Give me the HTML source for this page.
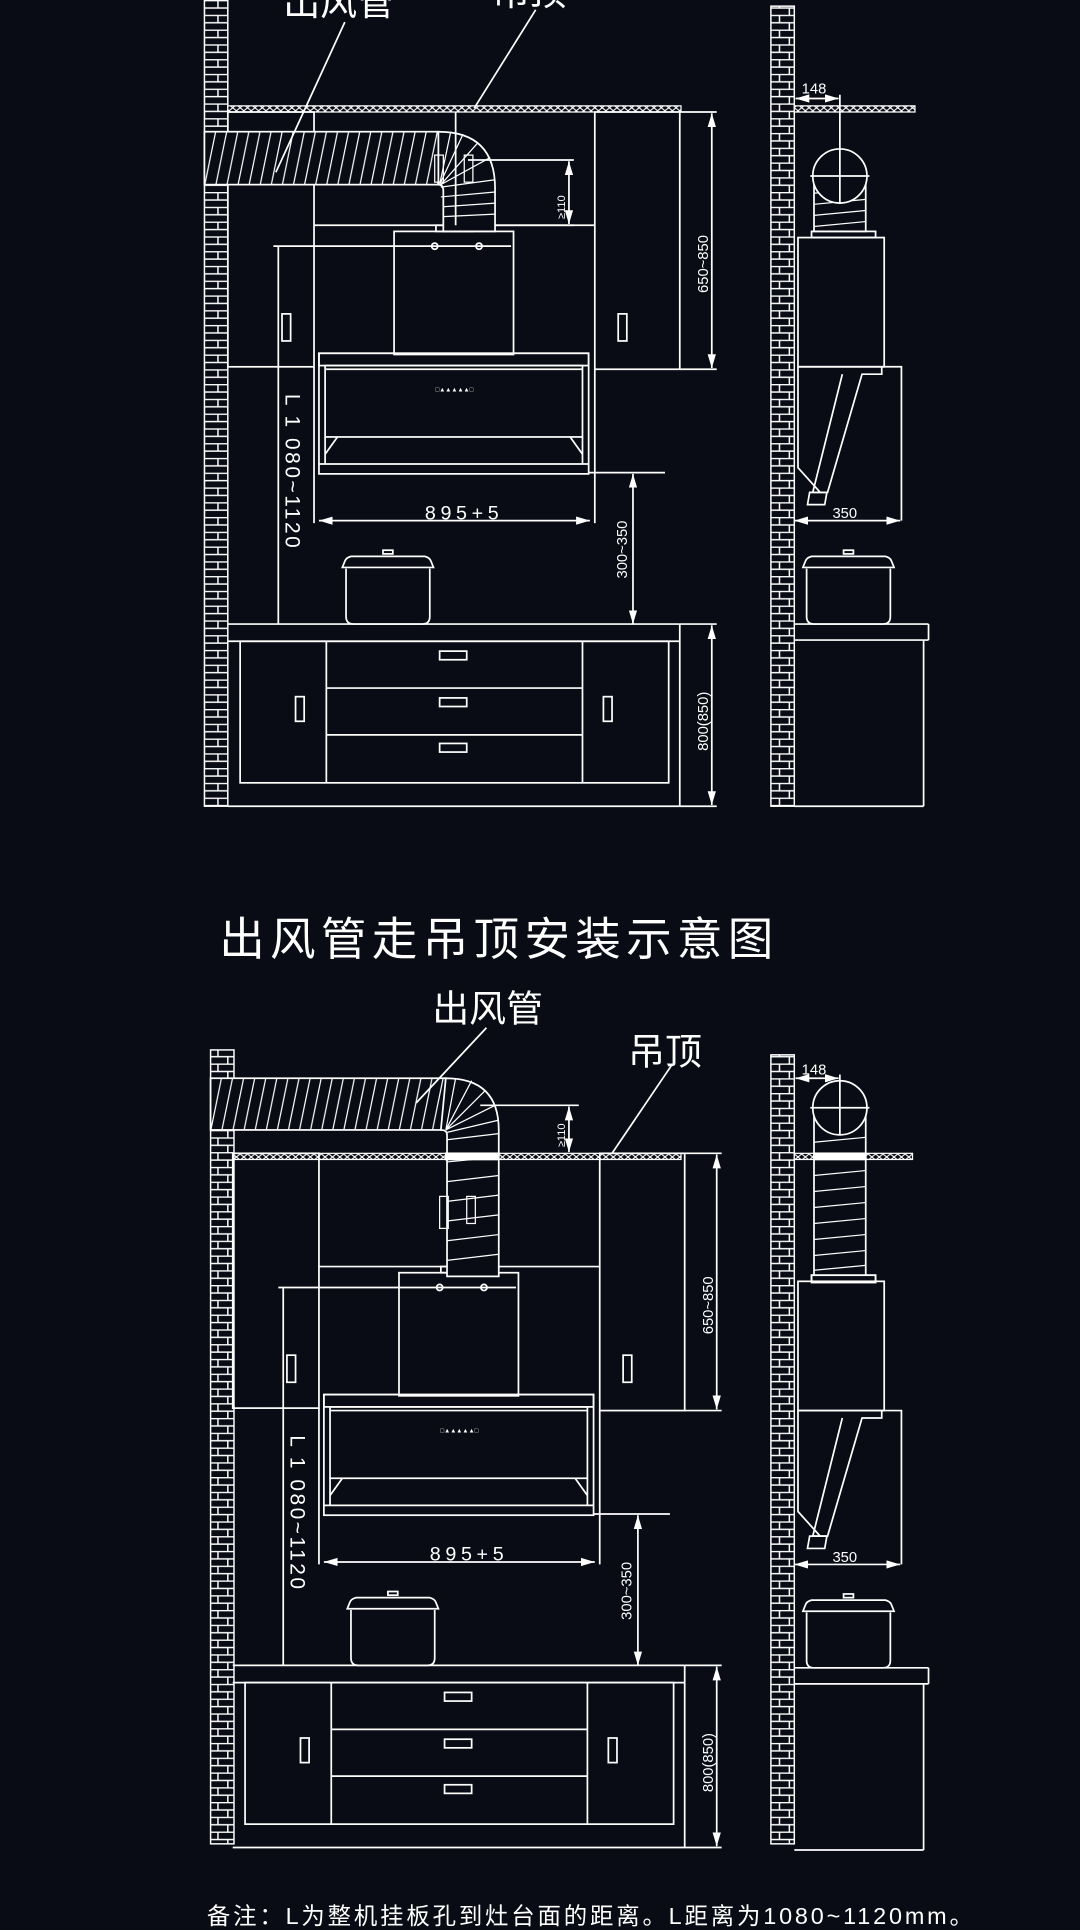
<!DOCTYPE html>
<html><head><meta charset="utf-8"><style>
html,body{margin:0;padding:0;background:#090c14;}
svg{display:block;}
text{font-family:"Liberation Sans","Noto Sans CJK SC",sans-serif;fill:#fff;}
</style></head><body>
<svg width="1080" height="1930" viewBox="0 0 877 1568" preserveAspectRatio="none" xmlns="http://www.w3.org/2000/svg">
<defs>
<pattern id="brick" width="19" height="12" patternUnits="userSpaceOnUse">
<rect width="19" height="12" fill="#090c14"/>
<path d="M0 0.5H19M0 6.5H19M6 0.5V6.5M14 6.5V12" stroke="#fff" stroke-width="1.2" fill="none"/>
</pattern>
<pattern id="ceil" width="6" height="5" patternUnits="userSpaceOnUse">
<rect width="6" height="5" fill="#090c14"/>
<path d="M0 0L6 5M6 0L0 5" stroke="#fff" stroke-width="0.9"/>
</pattern>
<pattern id="hatch" width="9" height="44" patternUnits="userSpaceOnUse">
<rect width="9" height="44" fill="#090c14"/>
<path d="M8 0L-1 44M17 0L8 44" stroke="#fff" stroke-width="1"/>
</pattern>
<marker id="ar" viewBox="0 0 10 6" refX="10" refY="3" markerWidth="8" markerHeight="5" orient="auto-start-reverse"><path d="M0 0L10 3L0 6z" fill="#fff"/></marker>

<g id="front" fill="none" stroke="#fff" stroke-width="1.4">
 <rect x="185" y="91" width="70" height="207"/>
 <rect x="483" y="91" width="69" height="209"/>
 <rect x="229" y="255" width="7" height="22"/>
 <rect x="502" y="255" width="7" height="22"/>
 <line x1="255" y1="183" x2="483" y2="183"/>
 <rect x="320" y="188" width="97" height="100"/>
 <rect x="354" y="183" width="30" height="5"/>
 <line x1="222" y1="200" x2="415" y2="200"/>
 <circle cx="353" cy="200" r="2.5"/>
 <circle cx="389" cy="200" r="2.5"/>
 <rect x="259" y="287" width="219" height="98"/>
 <rect x="259" y="287" width="219" height="10"/>
 <rect x="264" y="297" width="209" height="58"/>
 <line x1="264" y1="300" x2="473" y2="300"/>
 <line x1="264" y1="355" x2="264" y2="377"/>
 <line x1="473" y1="355" x2="473" y2="377"/>
 <line x1="259" y1="377" x2="478" y2="377"/>
 <line x1="264" y1="369" x2="274" y2="355"/>
 <line x1="473" y1="369" x2="463" y2="355"/>
 <text x="369" y="318" font-size="5" text-anchor="middle" stroke="none">□▲▲▲▲▲□</text>
 <line x1="226" y1="200" x2="226" y2="507"/>
 <text transform="translate(232,320) rotate(90)" font-size="17" stroke="none" textLength="125">L 1 080~1120</text>
 <line x1="255" y1="298" x2="255" y2="425"/>
 <line x1="483" y1="300" x2="483" y2="425"/>
 <line x1="259" y1="423" x2="479" y2="423" marker-start="url(#ar)" marker-end="url(#ar)"/>
 <text x="345" y="422" font-size="16" stroke="none" textLength="60">895+5</text>
 <line x1="478" y1="384" x2="540" y2="384"/>
 <line x1="514" y1="385" x2="514" y2="507" marker-start="url(#ar)" marker-end="url(#ar)"/>
 <text transform="translate(509,470) rotate(-90)" font-size="12" stroke="none">300~350</text>
 <line x1="552" y1="91" x2="582" y2="91"/>
 <line x1="552" y1="300" x2="582" y2="300"/>
 <line x1="578" y1="92" x2="578" y2="299" marker-start="url(#ar)" marker-end="url(#ar)"/>
 <text transform="translate(575,238) rotate(-90)" font-size="12" stroke="none">650~850</text>
 <path d="M281 462V501Q281 507 287 507H343Q349 507 349 501V462"/>
 <path d="M278 461H352L350 456Q349 453 345 452H285Q281 453 280 456Z"/>
 <rect x="311" y="447" width="8" height="3"/>
 <line x1="185" y1="507" x2="552" y2="507"/>
 <line x1="185" y1="521" x2="552" y2="521"/>
 <rect x="195" y="521" width="348" height="115"/>
 <line x1="265" y1="521" x2="265" y2="636"/>
 <line x1="473" y1="521" x2="473" y2="636"/>
 <line x1="265" y1="559" x2="473" y2="559"/>
 <line x1="265" y1="597" x2="473" y2="597"/>
 <rect x="357" y="529" width="22" height="7"/>
 <rect x="357" y="567" width="22" height="7"/>
 <rect x="357" y="604" width="22" height="7"/>
 <rect x="240" y="566" width="7" height="20"/>
 <rect x="490" y="566" width="7" height="20"/>
 <line x1="185" y1="655" x2="552" y2="655"/>
 <line x1="552" y1="507" x2="552" y2="655"/>
 <line x1="552" y1="507" x2="582" y2="507"/>
 <line x1="552" y1="655" x2="582" y2="655"/>
 <line x1="578" y1="508" x2="578" y2="654" marker-start="url(#ar)" marker-end="url(#ar)"/>
 <text transform="translate(575,610) rotate(-90)" font-size="12" stroke="none">800(850)</text>
</g>

<g id="side" fill="none" stroke="#fff" stroke-width="1.4">
 <rect x="648" y="193" width="70" height="105"/>
 <rect x="659" y="188" width="52" height="5"/>
 <path d="M648 298H732V423M716 298V304H700L672 400H660L684 304M648 298V380L666 400"/>
 <rect x="658" y="400" width="14" height="10" transform="skewX(-10) translate(70 0)"/>
 <line x1="645" y1="423" x2="731" y2="423" marker-start="url(#ar)" marker-end="url(#ar)"/>
 <text x="676" y="421" font-size="12" stroke="none">350</text>
 <path d="M655 462V501Q655 507 661 507H717Q723 507 723 501V462"/>
 <path d="M652 461H726L724 456Q723 453 719 452H659Q655 453 654 456Z"/>
 <rect x="685" y="447" width="8" height="3"/>
 <line x1="645" y1="507" x2="754" y2="507"/>
 <line x1="645" y1="520" x2="754" y2="520"/>
 <line x1="754" y1="507" x2="754" y2="520"/>
 <line x1="750" y1="520" x2="750" y2="655"/>
 <line x1="645" y1="655" x2="750" y2="655"/>
</g>
</defs>

<rect width="877" height="1568" fill="#090c14"/>

<rect x="166" y="0" width="19" height="655" fill="url(#brick)" stroke="#fff" stroke-width="1.2"/>
<rect x="185" y="86" width="368" height="5" fill="url(#ceil)" stroke="#fff" stroke-width="1"/>
<use href="#front"/>
<g stroke="#fff" stroke-width="1.4">
<rect x="166" y="107" width="190" height="43" fill="url(#hatch)"/>
<path d="M356 107Q402 107 402 153V188H360V155Q360 150 356 150Z" fill="#090c14"/>
<path d="M358 152L402 146M358 160L402 156M360 168L402 165M360 176L402 174M358 150L398 128M358 150L388 116M357 150L376 109M357 150L366 107" fill="none" stroke-width="1"/>
<rect x="353" y="126" width="7" height="22" fill="none" stroke-width="1"/>
<rect x="377" y="126" width="7" height="22" fill="none" stroke-width="1"/>
<line x1="370" y1="91" x2="370" y2="183"/>
<line x1="380" y1="130" x2="466" y2="130"/>
<line x1="402" y1="183" x2="466" y2="183"/>
<line x1="462" y1="131" x2="462" y2="182" marker-start="url(#ar)" marker-end="url(#ar)"/>
<line x1="280" y1="18" x2="224" y2="140"/>
<line x1="435" y1="8" x2="385" y2="88"/>
</g>
<text transform="translate(459,178) rotate(-90)" font-size="9">≥110</text>
<text x="230" y="12" font-size="30">出风管</text>
<text x="400" y="4" font-size="30">吊顶</text>
<rect x="626" y="5" width="19" height="650" fill="url(#brick)" stroke="#fff" stroke-width="1.2"/>
<rect x="645" y="86" width="98" height="5" fill="url(#ceil)" stroke="#fff" stroke-width="1"/>
<use href="#side"/>
<g fill="none" stroke="#fff" stroke-width="1.4">
<path d="M661 143V188H703V143" fill="#090c14"/>
<path d="M661 166L703 162M661 175L703 171M661 184L703 180M661 157L703 153" stroke-width="1"/>
<circle cx="682" cy="143" r="22" fill="#090c14"/>
<line x1="658" y1="143" x2="706" y2="143"/>
<line x1="682" y1="77" x2="682" y2="165"/>
<line x1="646" y1="80" x2="681" y2="80" marker-start="url(#ar)" marker-end="url(#ar)"/>
</g>
<text x="651" y="76" font-size="12">148</text>

<text x="178" y="776" font-size="37" textLength="450">出风管走吊顶安装示意图</text>

<rect x="171" y="853" width="19" height="645" fill="url(#brick)" stroke="#fff" stroke-width="1.2"/>
<rect x="190" y="937" width="363" height="5" fill="url(#ceil)" stroke="#fff" stroke-width="1"/>
<use href="#front" transform="translate(4,846)"/>
<g stroke="#fff" stroke-width="1.4">
<rect x="171" y="876" width="191" height="42" fill="url(#hatch)"/>
<path d="M362 876Q405 876 405 918V1037H363V922Q363 918 358 918Z" fill="#090c14"/>
<rect x="362" y="937" width="43" height="5" fill="#fff"/>
<path d="M363 926L405 921M363 944L405 940M363 960L405 955M363 976L405 971M363 992L405 987M363 1008L405 1003M363 1024L405 1019M363 920L405 910M362 918L402 898M362 918L394 886M362 918L383 878M362 918L370 876" fill="none" stroke-width="1"/>
<rect x="357" y="972" width="7" height="26" fill="none" stroke-width="1"/>
<rect x="379" y="972" width="7" height="22" fill="none" stroke-width="1"/>
<line x1="390" y1="898" x2="470" y2="898"/>
<line x1="462" y1="899" x2="462" y2="936" marker-start="url(#ar)" marker-end="url(#ar)"/>
<line x1="395" y1="835" x2="338" y2="896"/>
<line x1="545" y1="866" x2="497" y2="937"/>
</g>
<text transform="translate(459,932) rotate(-90)" font-size="9">≥110</text>
<text x="351" y="830" font-size="30">出风管</text>
<text x="510" y="865" font-size="30">吊顶</text>
<rect x="626" y="857" width="19" height="641" fill="url(#brick)" stroke="#fff" stroke-width="1.2"/>
<rect x="645" y="937" width="96" height="5" fill="url(#ceil)" stroke="#fff" stroke-width="1"/>
<use href="#side" transform="translate(0,848)"/>
<g fill="none" stroke="#fff" stroke-width="1.4">
<path d="M661 900V1036H703V900" fill="#090c14"/>
<rect x="661" y="937" width="42" height="5" fill="#fff"/>
<path d="M661 928L703 924M661 955L703 951M661 968L703 964M661 981L703 977M661 994L703 990M661 1007L703 1003M661 1020L703 1016M661 1032L703 1028" stroke-width="1"/>
<circle cx="682" cy="900" r="22" fill="#090c14"/>
<line x1="658" y1="900" x2="706" y2="900"/>
<line x1="682" y1="873" x2="682" y2="922"/>
<line x1="646" y1="876" x2="681" y2="876" marker-start="url(#ar)" marker-end="url(#ar)"/>
<rect x="659" y="1036" width="52" height="6"/>
</g>
<text x="651" y="873" font-size="12">148</text>

<text x="168" y="1563" font-size="19" textLength="622">备注：L为整机挂板孔到灶台面的距离。L距离为1080~1120mm。</text>
</svg>
</body></html>
